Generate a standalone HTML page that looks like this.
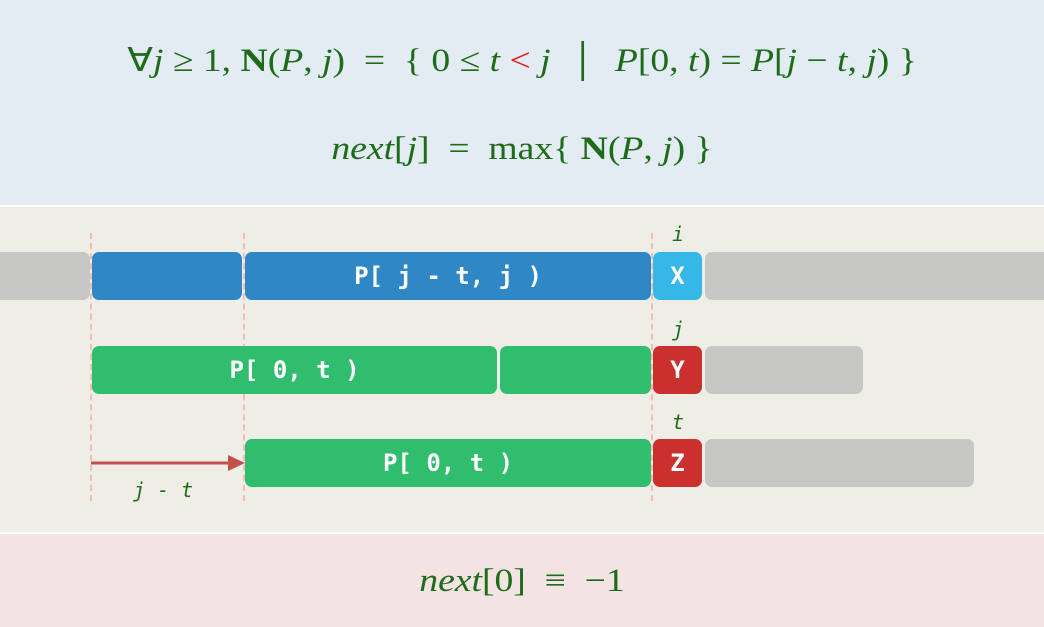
<!DOCTYPE html>
<html><head><style>
body{margin:0;width:1044px;height:627px;position:relative;overflow:hidden;font-family:"Liberation Serif",serif;}
.a{position:absolute}
.b{position:absolute;border-radius:7px;color:#fff;font-family:"DejaVu Sans Mono",monospace;font-weight:bold;font-size:24px;display:flex;align-items:center;justify-content:center;white-space:pre}
.m{position:absolute;color:#1e6b1a;font-size:33px;white-space:nowrap;text-align:center;width:1044px;left:0;transform:scaleX(1.14);transform-origin:522px 0}
.d{position:absolute;top:233px;height:268px;border-left:2px dashed #f3bcb4;width:0}
.l{position:absolute;color:#1e6b1a;font-style:italic;font-family:"DejaVu Sans Mono",monospace;font-size:20px}
i{font-style:italic}
</style></head><body>
<div class="a" style="left:0;top:0;width:1044px;height:205px;background:#e3ebf3"></div>
<div class="a" style="left:0;top:207px;width:1044px;height:325px;background:#efeee6"></div>
<div class="a" style="left:0;top:534px;width:1044px;height:93px;background:#f3e3e3"></div>
<div class="m" style="top:40px">∀<i>j</i> ≥ 1, <b>N</b>(<i>P</i>, <i>j</i>) &nbsp;= &nbsp;{ 0 ≤ <i>t</i> <span style="color:#e21a1a">&lt;</span> <i>j</i> &nbsp;│ &nbsp;<i>P</i>[0, <i>t</i>) = <i>P</i>[<i>j</i> − <i>t</i>, <i>j</i>) }</div>
<div class="m" style="top:131px"><i>next</i>[<i>j</i>] &nbsp;= &nbsp;max{ <b>N</b>(<i>P</i>, <i>j</i>) }</div>
<div class="m" style="top:563px"><i>next</i>[0] &nbsp;≡ &nbsp;−1</div>
<div class="d" style="left:90px"></div><div class="d" style="left:243px"></div><div class="d" style="left:651px"></div>
<div class="b" style="left:-10px;top:252px;width:100px;height:48px;background:#c7c7c5"></div>
<div class="b" style="left:92px;top:252px;width:150px;height:48px;background:#2f87c6"></div>
<div class="b" style="left:245px;top:252px;width:406px;height:48px;background:#2f87c6">P[ j - t, j )</div>
<div class="b" style="left:653px;top:252px;width:49px;height:48px;background:#35b8e8">X</div>
<div class="b" style="left:705px;top:252px;width:350px;height:48px;background:#c7c7c5"></div>
<div class="b" style="left:92px;top:346px;width:405px;height:48px;background:#30bd6e">P[ 0, t )</div>
<div class="b" style="left:500px;top:346px;width:151px;height:48px;background:#30bd6e"></div>
<div class="b" style="left:653px;top:346px;width:49px;height:48px;background:#c9302e">Y</div>
<div class="b" style="left:705px;top:346px;width:158px;height:48px;background:#c7c7c5"></div>
<div class="b" style="left:245px;top:439px;width:406px;height:48px;background:#30bd6e">P[ 0, t )</div>
<div class="b" style="left:653px;top:439px;width:49px;height:48px;background:#c9302e">Z</div>
<div class="b" style="left:705px;top:439px;width:269px;height:48px;background:#c7c7c5"></div>
<div class="l" style="left:672px;top:222px">i</div>
<div class="l" style="left:672px;top:317px">j</div>
<div class="l" style="left:672px;top:410px">t</div>
<div class="l" style="left:133px;top:478px">j - t</div>
<svg class="a" style="left:0;top:0" width="1044" height="627"><line x1="91" y1="463" x2="230" y2="463" stroke="#c4504c" stroke-width="3"/><polygon points="228,455 245,463 228,471" fill="#c4504c"/></svg>
</body></html>
